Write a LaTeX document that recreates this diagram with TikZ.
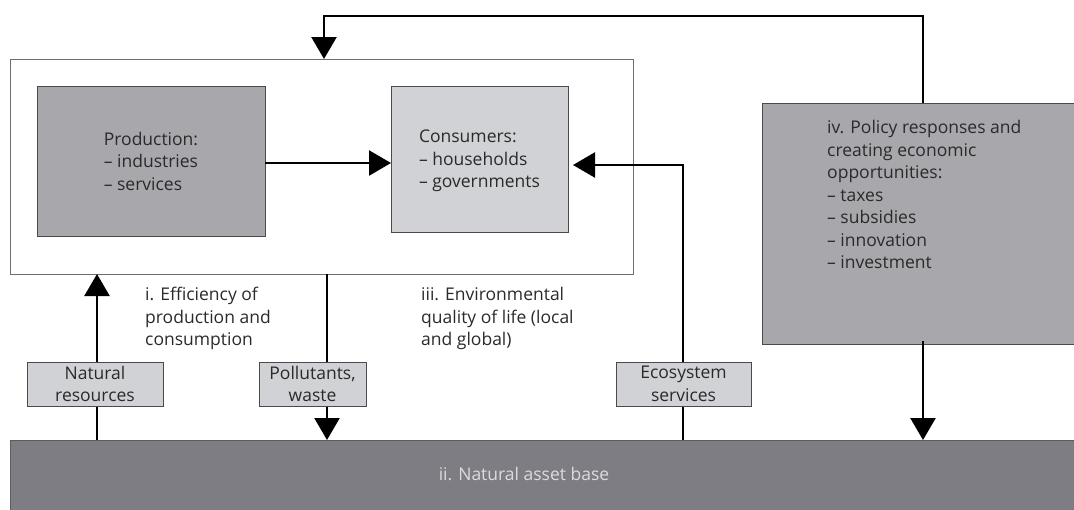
\documentclass[tikz,border=0pt]{standalone}
\usepackage{fontspec}
\setmainfont{Open Sans}
\usetikzlibrary{arrows.meta}
\definecolor{prodgray}{HTML}{A8A7AC}
\definecolor{consgray}{HTML}{D1D2D5}
\definecolor{assetgray}{HTML}{7E7D83}
\definecolor{edgegray}{HTML}{4A4A4A}
\definecolor{txt}{HTML}{2A2A2A}
\definecolor{assettxt}{HTML}{DCDCDE}
\tikzset{
  every node/.style={font=\fontsize{17.5}{22.5}\selectfont, text=txt},
  box/.style={draw=edgegray, line width=0.9pt, inner sep=0pt, outer sep=0pt, anchor=north west},
  smallbox/.style={box, fill=consgray, align=center, minimum width=136pt, minimum height=44pt},
  flow/.style={line width=2.4pt, -{Triangle[length=22pt,width=25pt]}},
  lbl/.style={anchor=north west, align=left, inner sep=0pt}
}
\begin{document}
\begin{tikzpicture}[x=1pt,y=-1pt]
\useasboundingbox (0,0) rectangle (1074,509);
% outer frame
\node[box, draw=edgegray!80, line width=0.8pt, minimum width=623pt, minimum height=215pt] (frame) at (10,59) {};
% production
\node[box, fill=prodgray, minimum width=228pt, minimum height=150pt] (prod) at (37,86) {};
\node[align=left, inner sep=0pt] (prodtxt) at (prod.center) {Production:\\– industries\\– services};
% consumers
\node[box, fill=consgray, minimum width=177pt, minimum height=146pt] (cons) at (391,86) {};
\node[align=left, inner sep=0pt] (constxt) at ([yshift=-2pt]cons.center) {Consumers:\\– households\\– governments};
% policy
\node[box, fill=prodgray, minimum width=315pt, minimum height=241pt] (pol) at (762,103) {};
\node[lbl] (poltxt) at (827,120) {iv. Policy responses and\\creating economic\\opportunities:\\– taxes\\– subsidies\\– innovation\\– investment};
% natural asset base
\node[box, fill=assetgray, draw=edgegray!90, minimum width=1070pt, minimum height=75pt] (asset) at (10,440) {};
\node[text=assettxt, inner sep=0pt] (assettxt) at (524,474) {ii. Natural asset base};
% coordinates
\coordinate (nrb) at (97,440);
\coordinate (nrt) at (97,274);
\coordinate (pwt) at (327,274);
\coordinate (pwb) at (327,440);
\coordinate (esb) at (683,440);
\coordinate (esc) at (683,165);
\coordinate (cst) at (573,165);
\coordinate (pab) at (923,440);
\coordinate (pat) at (923,103);
\coordinate (tr) at (923,16);
\coordinate (tl) at (324,16);
\coordinate (ft) at (324,59);
\coordinate (pcl) at (265,163);
\coordinate (pcr) at (391,163);
% connectors
\draw[flow] (nrb) -- (nrt);
\draw[flow] (pwt) -- (pwb);
\draw[flow] (esb) -- (esc) -- (cst);
\draw[flow] ([yshift=3pt]pol.south -| pab) -- (pab);
\draw[flow] (pat) -- (tr) -- (tl) -- (ft);
\draw[flow] (pcl) -- (pcr);
% small boxes
\node[smallbox] (nr) at (27,362) {Natural\\resources};
\node[smallbox, minimum width=107pt] (pw) at (259,362) {Pollutants,\\waste};
\node[smallbox, minimum width=135pt] (es) at (616,362) {Ecosystem\\services};
% labels
\node[lbl] (effl) at (145,287) {i. Efficiency of\\production and\\consumption};
\node[lbl] (envl) at (421,287) {iii. Environmental\\quality of life (local\\and global)};
\end{tikzpicture}
\end{document}
